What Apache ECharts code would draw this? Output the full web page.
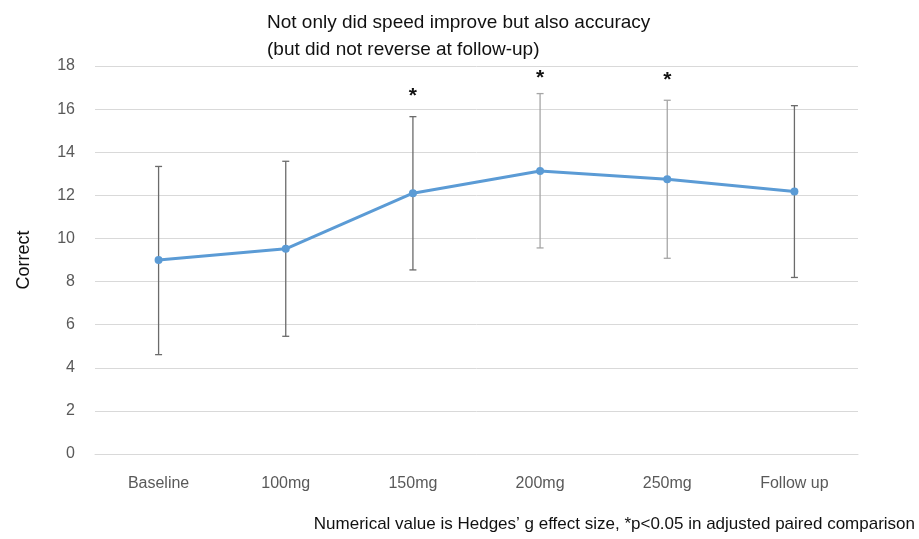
<!DOCTYPE html>
<html><head><meta charset="utf-8">
<script src="https://cdn.jsdelivr.net/npm/echarts@6/dist/echarts.min.js"></script>
<style>html,body{margin:0;padding:0;background:#fff}#c{width:919px;height:539px}</style>
</head><body><div id="c"></div>
<script>
var categories = ['Baseline', '100mg', '150mg', '200mg', '250mg', 'Follow up'];
var meanCorrect = [9.0, 9.52, 12.1, 13.13, 12.75, 12.18];
var errLow = [4.61, 5.46, 8.54, 9.56, 9.08, 8.19];
var errHigh = [13.34, 13.58, 15.65, 16.72, 16.41, 16.16];
var significance = ['', '', '*', '*', '*', ''];
var starLevel = [null, null, 16.85, 17.65, 17.55, null];
var errColors = ['#6b6b6b', '#6b6b6b', '#6b6b6b', '#a6a6a6', '#a6a6a6', '#6b6b6b'];

var chart = echarts.init(document.getElementById('c'));
var errData = categories.map(function (c, i) { return [i, errLow[i], errHigh[i], starLevel[i] == null ? NaN : starLevel[i]]; });
chart.setOption({
  animation: false,
  title: {
    text: 'Not only did speed improve but also accuracy\n(but did not reverse at follow-up)',
    left: 262, top: 4,
    textStyle: { fontFamily: 'Liberation Sans', fontSize: 19, fontWeight: 'normal', color: '#111', lineHeight: 27 }
  },
  graphic: [{
    type: 'text', right: 4, top: 516,
    style: { text: 'Numerical value is Hedges\u2019 g effect size, *p<0.05 in adjusted paired comparison',
      fontFamily: 'Liberation Sans', fontSize: 17, fill: '#111' }
  }],
  grid: { left: 95, right: 61, top: 66, bottom: 85 },
  xAxis: {
    type: 'category', data: categories, boundaryGap: true,
    axisLine: { show: true, lineStyle: { color: '#d9d9d9', width: 1 } },
    axisTick: { show: false },
    axisLabel: { color: '#595959', fontSize: 16, fontFamily: 'Liberation Sans', margin: 22 }
  },
  yAxis: {
    type: 'value', min: 0, max: 18, interval: 2,
    name: 'Correct', nameLocation: 'middle', nameGap: 62, nameRotate: 90,
    nameTextStyle: { color: '#111', fontSize: 18, fontFamily: 'Liberation Sans' },
    axisLine: { show: false }, axisTick: { show: false },
    axisLabel: { color: '#595959', fontSize: 16, fontFamily: 'Liberation Sans', margin: 20 },
    splitLine: { lineStyle: { color: '#d9d9d9', width: 1 } }
  },
  series: [
    {
      type: 'custom', z: 1,
      renderItem: function (params, api) {
        var i = api.value(0);
        var lo = api.coord([i, api.value(1)]);
        var hi = api.coord([i, api.value(2)]);
        var col = errColors[i];
        var w = 3.5;
        var children = [
          { type: 'line', shape: { x1: lo[0], y1: lo[1], x2: hi[0], y2: hi[1] }, style: { stroke: col, lineWidth: 1.3 } },
          { type: 'line', shape: { x1: lo[0] - w, y1: lo[1], x2: lo[0] + w, y2: lo[1] }, style: { stroke: col, lineWidth: 1.3 } },
          { type: 'line', shape: { x1: hi[0] - w, y1: hi[1], x2: hi[0] + w, y2: hi[1] }, style: { stroke: col, lineWidth: 1.3 } }
        ];
        if (significance[i]) {
          var s = api.coord([i, api.value(3)]);
          children.push({ type: 'text', style: { text: significance[i], x: s[0], y: s[1] + 5,
            align: 'center', verticalAlign: 'middle', fontSize: 21, fontWeight: 'bold', fontFamily: 'Liberation Sans', fill: '#111' } });
        }
        return { type: 'group', children: children };
      },
      data: errData
    },
    {
      type: 'line', z: 3, data: meanCorrect,
      symbol: 'circle', symbolSize: 8,
      lineStyle: { color: '#5b9bd5', width: 3 },
      itemStyle: { color: '#5b9bd5' }
    }
  ]
});
</script></body></html>
